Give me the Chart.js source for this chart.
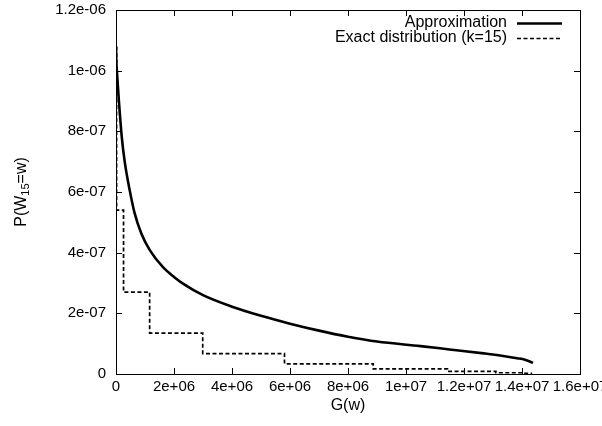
<!DOCTYPE html>
<html>
<head>
<meta charset="utf-8">
<script src="https://cdn.jsdelivr.net/npm/chart.js@4.4.1/dist/chart.umd.min.js"></script>
<style>
html,body{margin:0;padding:0;background:#fff;}
#wrap{width:602px;height:426px;}
</style>
</head>
<body>
<div id="wrap"><canvas id="c" width="602" height="426"></canvas></div>
<script>
// ---- data ----
const approxX = [0, 0.01e6, 0.04e6, 0.1e6, 0.2e6, 0.3e6, 0.47e6, 0.64e6, 0.87e6, 1.16e6, 1.62e6, 2.0e6, 2.31e6, 3.0e6, 4.0e6, 5.0e6, 6.0e6, 7.0e6, 8.0e6, 9.0e6, 10.5e6, 11.5e6, 12.68e6, 13.3e6, 13.83e6, 14.1e6, 14.38e6];
const approxY = [1.078e-6, 1.035e-6, 0.985e-6, 0.90e-6, 0.78e-6, 0.70e-6, 0.607e-6, 0.531e-6, 0.464e-6, 0.409e-6, 0.352e-6, 0.32e-6, 0.298e-6, 0.26e-6, 0.222e-6, 0.192e-6, 0.166e-6, 0.143e-6, 0.123e-6, 0.107e-6, 0.092e-6, 0.081e-6, 0.068e-6, 0.0603e-6, 0.052e-6, 0.047e-6, 0.037e-6];
const exactX = [0, 0.02e6, 0.26e6, 1.16e6, 2.99e6, 5.81e6, 8.87e6, 11.43e6, 13.1e6, 14.0e6, 14.35e6];
const exactY = [1.078e-6, 5.4e-7, 2.7e-7, 1.35e-7, 6.75e-8, 3.37e-8, 1.69e-8, 8.4e-9, 4.2e-9, 2.1e-9, 2.1e-9];
const seriesNames = ['Approximation', 'Exact distribution (k=15)'];
const xTickValues = [0, 2e6, 4e6, 6e6, 8e6, 1e7, 1.2e7, 1.4e7, 1.6e7];
const xTickLabels = ['0', '2e+06', '4e+06', '6e+06', '8e+06', '1e+07', '1.2e+07', '1.4e+07', '1.6e+07'];
const yTickValues = [0, 2e-7, 4e-7, 6e-7, 8e-7, 1e-6, 1.2e-6];
const yTickLabels = ['0', '2e-07', '4e-07', '6e-07', '8e-07', '1e-06', '1.2e-06'];
const xTitle = 'G(w)';

const FONT = '"Liberation Sans", Arial, Helvetica, sans-serif';

const approxData = approxX.map((x, i) => ({x: x, y: approxY[i]}));
const exactData = exactX.map((x, i) => ({x: x, y: exactY[i]}));

const framePlugin = {
  id: 'gnuplotFrame',
  afterDraw(chart) {
    const ctx = chart.ctx;
    const a = chart.chartArea;
    const xs = chart.scales.x, ys = chart.scales.y;
    const TL = 6;
    ctx.save();
    ctx.strokeStyle = '#000';
    ctx.lineWidth = 1;
    ctx.beginPath();
    xTickValues.forEach(v => {
      const px = Math.round(xs.getPixelForValue(v)) + 0.5;
      ctx.moveTo(px, a.bottom); ctx.lineTo(px, a.bottom - TL);
      ctx.moveTo(px, a.top); ctx.lineTo(px, a.top + TL);
    });
    yTickValues.forEach(v => {
      const py = Math.round(ys.getPixelForValue(v)) + 0.5;
      ctx.moveTo(a.left, py); ctx.lineTo(a.left + TL, py);
      ctx.moveTo(a.right, py); ctx.lineTo(a.right - TL, py);
    });
    ctx.stroke();
    ctx.strokeRect(Math.round(a.left) + 0.5, Math.round(a.top) + 0.5,
                   Math.round(a.right - a.left), Math.round(a.bottom - a.top));
    // x title
    ctx.fillStyle = '#000';
    ctx.font = '16px ' + FONT;
    ctx.textAlign = 'center';
    ctx.textBaseline = 'middle';
    ctx.fillText(xTitle, (a.left + a.right) / 2, 406);
    // y title with subscript
    ctx.save();
    ctx.translate(20, (a.top + a.bottom) / 2);
    ctx.rotate(-Math.PI / 2);
    const p1 = 'P(W', sub = '15', p2 = '=w)';
    ctx.font = '16px ' + FONT;
    const w1 = ctx.measureText(p1).width, w3 = ctx.measureText(p2).width;
    ctx.font = '11px ' + FONT;
    const w2 = ctx.measureText(sub).width;
    const total = w1 + w2 + w3;
    let xx = -total / 2;
    ctx.textAlign = 'left';
    ctx.textBaseline = 'alphabetic';
    ctx.font = '16px ' + FONT;
    ctx.fillText(p1, xx, 6); xx += w1;
    ctx.font = '11px ' + FONT;
    ctx.fillText(sub, xx, 9); xx += w2;
    ctx.font = '16px ' + FONT;
    ctx.fillText(p2, xx, 6);
    ctx.restore();
    // legend
    const rows = [22.5, 37.5];
    chart.data.datasets.forEach((ds, i) => {
      const y = rows[i];
      ctx.font = '16px ' + FONT;
      ctx.textAlign = 'right';
      ctx.textBaseline = 'middle';
      ctx.fillStyle = '#000';
      ctx.fillText(ds.label, 507, y);
      ctx.beginPath();
      ctx.lineWidth = ds.borderWidth;
      ctx.setLineDash(ds.borderDash || []);
      ctx.moveTo(517, Math.round(y) + 0.5);
      ctx.lineTo(562, Math.round(y) + 0.5);
      ctx.stroke();
      ctx.setLineDash([]);
    });
    ctx.restore();
  }
};

new Chart(document.getElementById('c'), {
  type: 'line',
  data: {
    datasets: [
      {
        label: seriesNames[0],
        data: approxData,
        borderColor: '#000',
        borderWidth: 2.6,
        pointRadius: 0,
        fill: false,
        cubicInterpolationMode: 'monotone'
      },
      {
        label: seriesNames[1],
        data: exactData,
        borderColor: '#000',
        borderWidth: 1.7,
        borderDash: [4, 2.5],
        pointRadius: 0,
        fill: false,
        stepped: 'before'
      }
    ]
  },
  options: {
    responsive: false,
    animation: false,
    devicePixelRatio: 1,
    layout: {padding: {top: 10, right: 22, left: 0, bottom: 0}},
    plugins: {legend: {display: false}, tooltip: {enabled: false}},
    scales: {
      x: {
        type: 'linear',
        min: 0, max: 1.6e7,
        afterBuildTicks: s => { s.ticks = xTickValues.map(v => ({value: v})); },
        afterFit: s => { s.height = 52; s.paddingLeft = 0; s.paddingRight = 0; },
        grid: {display: false, drawTicks: false},
        border: {display: false},
        ticks: {
          autoSkip: false, maxRotation: 0, minRotation: 0, padding: 4,
          color: '#000', font: {family: FONT, size: 15},
          callback: (v, i) => xTickLabels[i]
        }
      },
      y: {
        type: 'linear',
        min: 0, max: 1.2e-6,
        afterBuildTicks: s => { s.ticks = yTickValues.map(v => ({value: v})); },
        afterFit: s => { s.width = 116; s.paddingTop = 0; s.paddingBottom = 0; },
        grid: {display: false, drawTicks: false},
        border: {display: false},
        ticks: {
          autoSkip: false, padding: 10,
          color: '#000', font: {family: FONT, size: 15},
          callback: (v, i) => yTickLabels[i]
        }
      }
    }
  },
  plugins: [framePlugin]
});
</script>
</body>
</html>
